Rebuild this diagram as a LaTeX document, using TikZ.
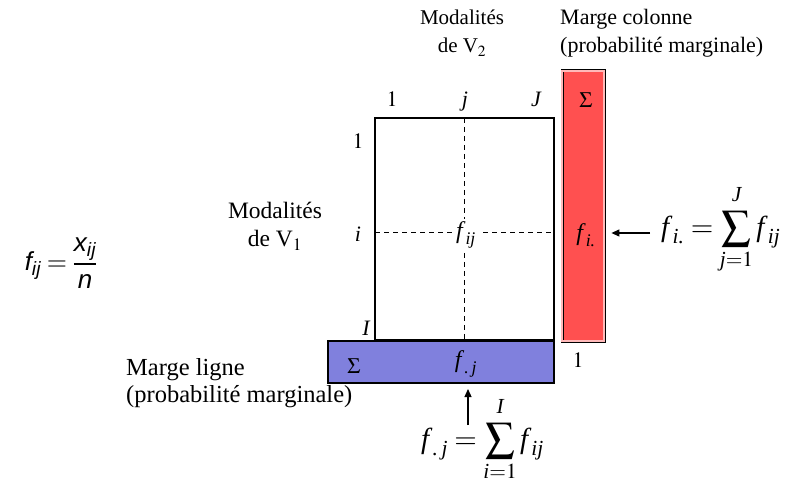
\documentclass[tikz,border=0pt]{standalone}
\usepackage{amsmath}
\usepackage{mathptmx}
\usepackage[no-math]{fontspec}
\setmainfont{Liberation Serif}
\newfontfamily\sansf{Liberation Sans}
\usetikzlibrary{arrows.meta}
\definecolor{barred}{RGB}{255,80,80}
\definecolor{barblue}{RGB}{128,128,221}
\newcommand\ti[1]{\text{\itshape #1}}
\newcommand\tf{\text{\itshape f\/}}
\begin{document}
\begin{tikzpicture}[x=1pt,y=-1pt,
  lab/.style={font=\fontsize{22}{26}\selectfont, inner sep=0pt},
  cell/.style={font=\fontsize{24}{28}\selectfont, inner sep=0pt},
  txt/.style={font=\fontsize{21}{26}\selectfont, inner sep=0pt},
  txtm/.style={font=\fontsize{22}{26}\selectfont, inner sep=0pt},
  txtl/.style={font=\fontsize{23.5}{28}\selectfont, inner sep=0pt},
  txtb/.style={font=\fontsize{24.5}{28}\selectfont, inner sep=0pt},
  big/.style={font=\fontsize{29}{33}\selectfont, inner sep=0pt},
  grid/.style={draw, line width=1.2pt, inner sep=0pt, outer sep=0pt},
  dashline/.style={line width=1pt, dash pattern=on 5pt off 4pt},
  arr/.style={line width=1.2pt, -{Triangle[length=8pt,width=7pt]}}
]
\useasboundingbox (0,0) rectangle (787,486);

% main table
\node[grid, minimum width=179pt, minimum height=222pt, anchor=north west] (M) at (375,118) {};
% red column margin
\node[draw, line width=0.8pt, double=barred!40, double distance=1.4pt, fill=barred,
      minimum width=42pt, minimum height=270pt, inner sep=0pt] (R) at (583,206) {};
% blue row margin
\node[draw, line width=2pt, fill=barblue, minimum width=226pt, minimum height=42pt, inner sep=0pt] (B) at (441,362) {};

% cell label and dashed lines
\node[lab, fill=none] (fij) at (465,233) {};
\draw[dashline] (M.north) -- (M.south);
\draw[dashline] (M.west |- fij) -- (M.east |- fij);
\node[cell, fill=white, inner sep=3pt] (fijl) at (466,235) {$\tf_{\ti{ij}}$};

% column labels
\node[lab, anchor=base] (c1) at (392,107) {$1$};
\node[lab, anchor=base] (cj) at (465,107) {$\ti{j}$};
\node[lab, anchor=base] (cJ) at (536,107) {$\ti{J}$};
% row labels
\node[lab, anchor=base] (r1) at (358,149) {$1$};
\node[lab, anchor=base] (ri) at (358,242) {$\ti{i}$};
\node[lab, anchor=base] (rI) at (366,335) {$\ti{I}$};

% headings
\node[txt, anchor=base] (mv2a) at (462,25) {Modalités};
\node[txt, anchor=base] (mv2b) at (462,53) {de V$_2$};
\node[txtl, anchor=base] (mv1a) at (275,219) {Modalités};
\node[txtl, anchor=base] (mv1b) at (275,247) {de V$_1$};
\node[txtm, anchor=base west] (mca) at (560,25) {Marge colonne};
\node[txtm, anchor=base west] (mcb) at (560,53) {(probabilité marginale)};
\node[txtb, anchor=base west] (mla) at (126,375) {Marge ligne};
\node[txtb, anchor=base west] (mlb) at (126,402) {(probabilité marginale)};

% bar contents
\node[lab] (sr) at (586,100) {$\Sigma$};
\node[cell] (fi) at (586,235) {$\tf_{\ti{i.}}$};
\node[lab] (sb) at (354,366) {$\Sigma$};
\node[cell] (fj) at (466,364) {$\tf_{\ti{.\,j}}$};
\node[lab, anchor=base] (one) at (578,367) {$1$};

% formulas
\node[big, anchor=west] (Fi) at (661,229)
  {$\displaystyle \tf_{\ti{i.}}=\sum_{\ti{j}=1}^{\raisebox{4pt}{$\scriptstyle\ti{J}$}} \tf_{\ti{ij}}$};
\node[big, anchor=west] (Fj) at (421,439)
  {$\displaystyle \tf_{\ti{.\,j}}=\sum_{\ti{i}=1}^{\raisebox{4pt}{$\scriptstyle\ti{I}$}} \tf_{\ti{ij}}$};
\node[font=\fontsize{26}{30}\selectfont\sansf\itshape, inner sep=0pt] (F) at (61,263)
  {$\text{f}_{\text{ij}} = \dfrac{\text{x}_{\text{ij}}}{\text{n}}$};

% arrows
\coordinate (ai) at (650,233);
\draw[arr, shorten >=7pt] (ai) -- (ai -| R.east);
\coordinate (aj) at (468,425);
\draw[arr, shorten >=5pt] (aj) -- (aj |- B.south);
\end{tikzpicture}
\end{document}
